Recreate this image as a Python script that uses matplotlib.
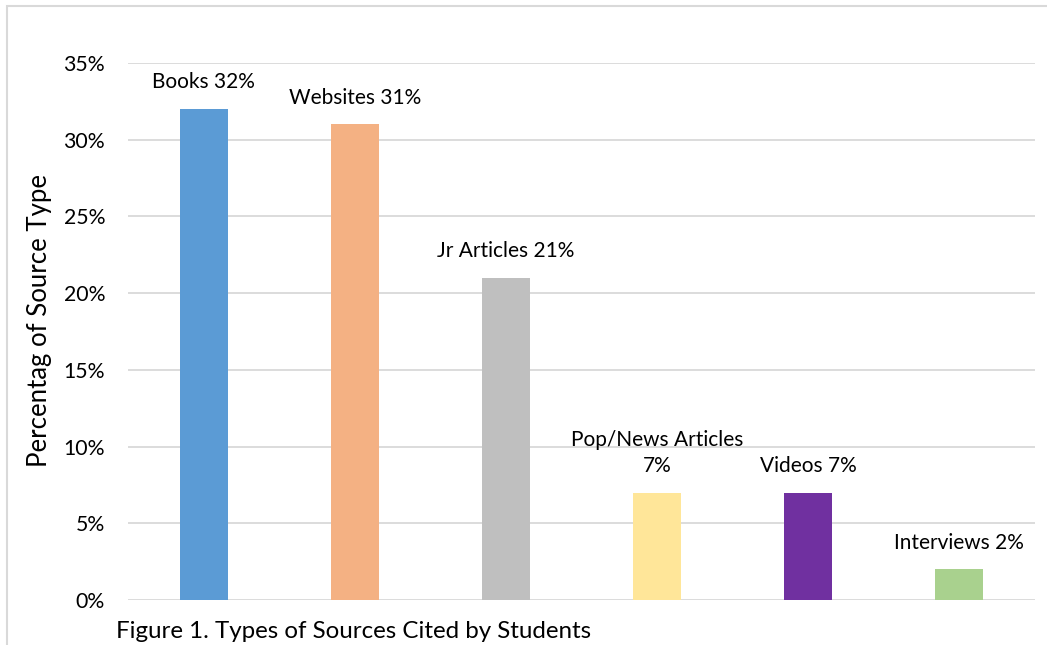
import matplotlib
matplotlib.use("Agg")
import matplotlib.pyplot as plt
from matplotlib.patches import Rectangle
from matplotlib.ticker import FuncFormatter, MultipleLocator

categories = ["Books", "Websites", "Jr Articles", "Pop/News Articles", "Videos", "Interviews"]
values = [32, 31, 21, 7, 7, 2]
labels = ["Books 32%", "Websites 31%", "Jr Articles 21%", "Pop/News Articles\n7%", "Videos 7%", "Interviews 2%"]
colors = ["#5B9BD5", "#F4B183", "#BFBFBF", "#FFE699", "#7030A0", "#A9D18E"]

plt.rcParams['font.family'] = ['Lato', 'DejaVu Sans']

W, H = 1047, 645
fig = plt.figure(figsize=(W/100, H/100), dpi=100)
ax = fig.add_axes([128/W, 1-600/H, (1035-128)/W, (600-63)/H])

x = list(range(len(categories)))
ax.bar(x, values, width=0.317, color=colors, zorder=3)
ax.set_xlim(-0.5, len(categories)-0.5)
ax.set_ylim(0, 35)
ax.yaxis.set_major_locator(MultipleLocator(5))
ax.yaxis.set_major_formatter(FuncFormatter(lambda v, p: f"{int(v)}%"))
ax.grid(axis='y', color='#d9d9d9', linewidth=1.3, zorder=0)
ax.set_xticks([])
ax.tick_params(axis='y', length=0, pad=16.5, labelsize=15.3, colors='#000000')
for s in ax.spines.values():
    s.set_visible(False)
ax.set_ylabel("Percentag of Source Type", fontsize=18.5)
ax.yaxis.set_label_coords(-76/907, 0.52)

for xi, v, lab in zip(x, values, labels):
    ax.annotate(lab, (xi, v), xytext=(0, 12), textcoords='offset points',
                ha='center', va='bottom', fontsize=15, linespacing=1.35)

fig.text(116/W, 1-632/H, "Figure 1. Types of Sources Cited by Students",
         fontsize=17.4, ha='left', va='center')

fig.patches.append(Rectangle((7/W, -0.1), 1.2, 1-6/H+0.1, transform=fig.transFigure,
                             fill=False, edgecolor='#d9d9d9', linewidth=1.5))

fig.savefig("out.png", dpi=100)
